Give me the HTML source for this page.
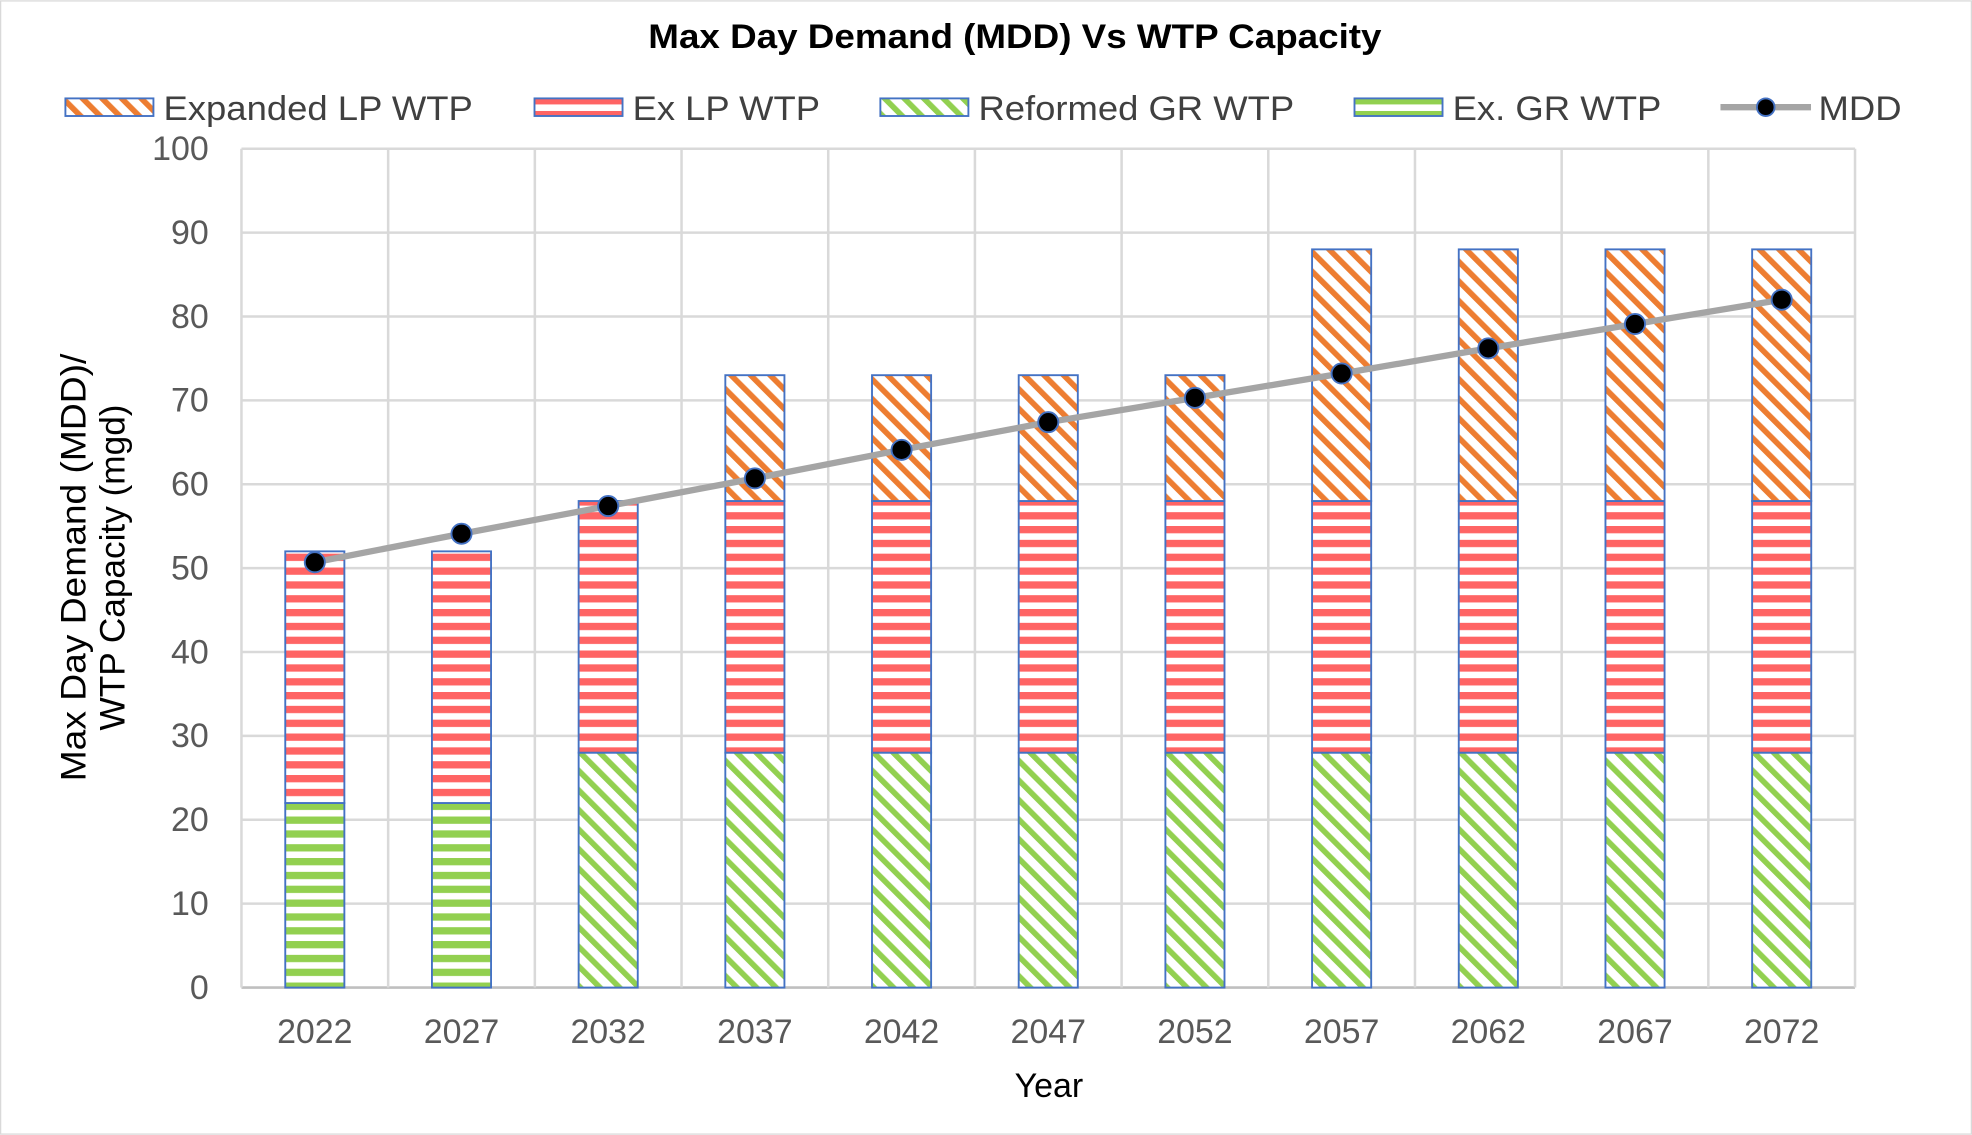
<!DOCTYPE html>
<html><head><meta charset="utf-8"><style>
html,body{margin:0;padding:0;background:#fff;}
svg{display:block;font-family:"Liberation Sans",Arial,sans-serif;}
</style></head><body>
<svg id="chart" width="1972" height="1135" viewBox="0 0 1568 902" xmlns="http://www.w3.org/2000/svg">
<defs>
<pattern id="pRed" patternUnits="userSpaceOnUse" width="11" height="11"><rect width="11" height="11" fill="#fff"/><rect y="0" width="11" height="5.8" fill="#ff6464"/></pattern>
<pattern id="pGreenH" patternUnits="userSpaceOnUse" width="11" height="11"><rect width="11" height="11" fill="#fff"/><rect y="0" width="11" height="5.8" fill="#92d050"/></pattern>
<pattern id="pGreenD" patternUnits="userSpaceOnUse" width="11" height="11" patternTransform="rotate(-45)"><rect width="11" height="11" fill="#fff"/><rect x="0" width="4.5" height="11" fill="#92d050"/></pattern>
<pattern id="pOrangeD" patternUnits="userSpaceOnUse" width="11" height="11" patternTransform="rotate(-45)"><rect width="11" height="11" fill="#fff"/><rect x="0" width="4.5" height="11" fill="#ed7d31"/></pattern>
</defs>
<rect x="0.5" y="0.5" width="1567" height="901" fill="#fff" stroke="#d9d9d9"/>
<text x="807" y="38" text-anchor="middle" font-size="27" font-weight="bold" textLength="583" lengthAdjust="spacingAndGlyphs">Max Day Demand (MDD) Vs WTP Capacity</text>
<g id="legend" font-size="27.5" fill="#404040">
<g><rect x="52" y="78" width="70" height="14" fill="url(#pOrangeD)" stroke="#4472c4" stroke-width="1.5"/><text x="130" y="95" textLength="246" lengthAdjust="spacingAndGlyphs">Expanded LP WTP</text></g>
<g><rect x="425" y="78" width="70" height="14" fill="url(#pRed)" stroke="#4472c4" stroke-width="1.5"/><text x="503" y="95" textLength="149" lengthAdjust="spacingAndGlyphs">Ex LP WTP</text></g>
<g><rect x="700" y="78" width="70" height="14" fill="url(#pGreenD)" stroke="#4472c4" stroke-width="1.5"/><text x="778" y="95" textLength="251" lengthAdjust="spacingAndGlyphs">Reformed GR WTP</text></g>
<g><rect x="1077" y="78" width="70" height="14" fill="url(#pGreenH)" stroke="#4472c4" stroke-width="1.5"/><text x="1155" y="95" textLength="166" lengthAdjust="spacingAndGlyphs">Ex. GR WTP</text></g>
<g><line x1="1368" y1="85" x2="1440" y2="85" stroke="#a5a5a5" stroke-width="5"/><circle cx="1404" cy="85" r="7" fill="#000" stroke="#4472c4" stroke-width="1.5"/><text x="1446" y="95" textLength="66" lengthAdjust="spacingAndGlyphs">MDD</text></g>
</g>
<g id="grid"></g>
<g id="bars"></g>
<g id="line"></g>
<g id="axes" font-size="27" fill="#595959"></g>
<text x="834" y="872" text-anchor="middle" font-size="27">Year</text>
<text transform="translate(68,451) rotate(-90)" text-anchor="middle" font-size="28"><tspan x="0" dy="0" textLength="340" lengthAdjust="spacingAndGlyphs">Max Day Demand (MDD)/</tspan><tspan x="0" dy="31">WTP Capacity (mgd)</tspan></text>
</svg>
<script>
const years = ["2022","2027","2032","2037","2042","2047","2052","2057","2062","2067","2072"];
const exGR = [22,22,0,0,0,0,0,0,0,0,0];
const reformedGR = [0,0,28,28,28,28,28,28,28,28,28];
const exLP = [30,30,30,30,30,30,30,30,30,30,30];
const expandedLP = [0,0,0,15,15,15,15,30,30,30,30];
const mdd = [50.7,54.1,57.4,60.7,64.1,67.4,70.3,73.2,76.2,79.1,82.0];
const yTicks = [0,10,20,30,40,50,60,70,80,90,100];

const NS="http://www.w3.org/2000/svg";
const L=192,R=1475,T=118,B=785,yMax=100;
const band=(R-L)/years.length, barW=47;
const xc=i=>L+band*(i+0.5);
const y=v=>B-(v/yMax)*(B-T);
function mk(tag,attrs,parent){const e=document.createElementNS(NS,tag);for(const k in attrs)e.setAttribute(k,attrs[k]);parent.appendChild(e);return e;}
const grid=document.getElementById('grid'),bars=document.getElementById('bars'),line=document.getElementById('line'),axes=document.getElementById('axes');
yTicks.forEach(t=>{
  const g=mk('line',{x1:L,x2:R,y1:y(t),y2:y(t),stroke:t===0?'#bfbfbf':'#d9d9d9','stroke-width':2},grid);
  
  
  const tx=mk('text',{x:L-26,y:y(t)+9,'text-anchor':'end'},axes);tx.textContent=t;
  
  
});
for(let i=0;i<=years.length;i++){
  const g=mk('line',{x1:L+band*i,x2:L+band*i,y1:T,y2:B,stroke:'#d9d9d9','stroke-width':2},grid);
  
  
}
const series=[[exGR,'url(#pGreenH)','ex-gr'],[reformedGR,'url(#pGreenD)','reformed-gr'],[exLP,'url(#pRed)','ex-lp'],[expandedLP,'url(#pOrangeD)','expanded-lp']];
years.forEach((yr,i)=>{
  let base=0;
  series.forEach(([arr,fill,nm])=>{
    const v=arr[i]; if(v<=0)return;
    const r=mk('rect',{x:xc(i)-barW/2,y:y(base+v),width:barW,height:y(base)-y(base+v),fill:fill,stroke:'#4472c4','stroke-width':1.5},bars);
    
    
    base+=v;
  });
  const tx=mk('text',{x:xc(i),y:829,'text-anchor':'middle'},axes);tx.textContent=yr;
  
  
});
const pts=mdd.map((v,i)=>xc(i)+','+y(v)).join(' ');
const pl=mk('polyline',{points:pts,fill:'none',stroke:'#a5a5a5','stroke-width':5},line);


mdd.forEach((v,i)=>{
  const c=mk('circle',{cx:xc(i),cy:y(v),r:8,fill:'#000',stroke:'#4472c4','stroke-width':1.5},line);
  
  
});
</script>
</body></html>
